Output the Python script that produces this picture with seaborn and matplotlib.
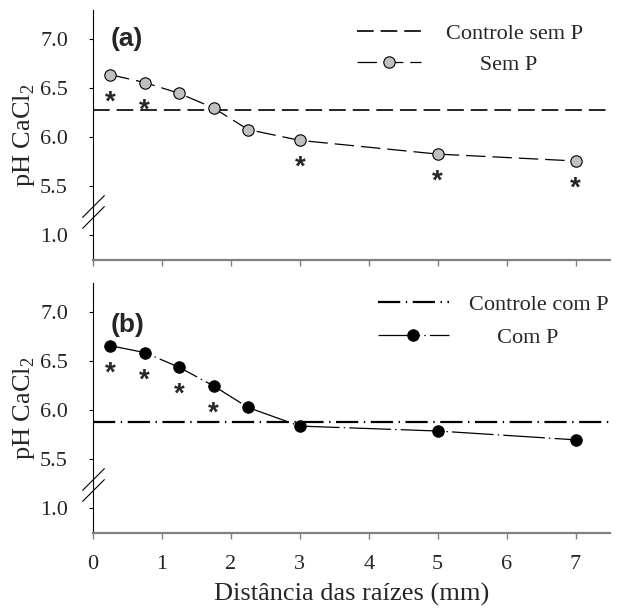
import numpy as np
import seaborn as sns
from matplotlib import pyplot as plt
from matplotlib.lines import Line2D
from matplotlib.ticker import FixedLocator, FormatStrFormatter

# data
dist = [0.25, 0.75, 1.25, 1.75, 2.25, 3, 5, 7]
ph_sem_p = [6.64, 6.56, 6.45, 6.30, 6.08, 5.97, 5.83, 5.76]
ph_com_p = [6.66, 6.59, 6.44, 6.25, 6.03, 5.84, 5.79, 5.70]
ctrl_sem_p = 6.28
ctrl_com_p = 5.88
sig_sem_p = [1, 1, 0, 0, 0, 1, 1, 1]
sig_com_p = [1, 1, 1, 1, 0, 0, 0, 0]
yticks = [1.0, 5.5, 6.0, 6.5, 7.0]
xticks = [0, 1, 2, 3, 4, 5, 6, 7]

sns.set_style("ticks")
plt.rcParams["font.family"] = ["Liberation Serif", "DejaVu Serif"]
plt.rcParams["mathtext.fontset"] = "custom"
plt.rcParams["mathtext.rm"] = "Liberation Serif"
plt.rcParams["lines.scale_dashes"] = False


# broken y axis: 1.0 sits half a unit below 5.5
def fwd(v):
    v = np.asarray(v, dtype=float)
    return np.where(v >= 5.5, v, np.where(v <= 1.0, v + 4.0, 5.0 + (v - 1.0) / 9.0))


def inv(t):
    t = np.asarray(t, dtype=float)
    return np.where(t >= 5.5, t, np.where(t <= 5.0, t - 4.0, 1.0 + (t - 5.0) * 9.0))


fig = plt.figure(figsize=(6.17, 6.08), dpi=100)
ax_a = fig.add_axes([0.1507, 0.5724, 0.838, 0.4112])
ax_b = fig.add_axes([0.1507, 0.1234, 0.838, 0.4112])

panels = [
    (ax_a, ph_sem_p, ctrl_sem_p, sig_sem_p, "(a)", 7.0,
     "Controle sem P", "      Sem P", "#c0c0c0", (0, (12, 5)), 1.2, (0, (14, 5)), 0.9,
     (0.51, 0.945), 2.9, 1.1, 0.45),
    (ax_b, ph_com_p, ctrl_com_p, sig_com_p, "(b)", 6.87,
     "Controle com P", "     Com P", "black", (0, (16, 4, 1, 4)), 1.6, (0, (30, 3, 1, 3)), 0.9,
     (0.551, 0.955), 3.2, 0.9, 0.55),
]

for (ax, ph, ctrl, sig, tag, tag_y, lab_ctrl, lab_ser, fc,
     ls_ctrl, lw_ctrl, ls_ser, lw_ser, anchor, hlen, hpad, lspace) in panels:
    ax.set_yscale("function", functions=(fwd, inv))
    ax.axhline(ctrl, color="black", lw=lw_ctrl, linestyle=ls_ctrl)
    sns.lineplot(x=dist, y=ph, ax=ax, color="black", lw=lw_ser, linestyle=ls_ser,
                 marker="o", markersize=8.2, markerfacecolor=fc,
                 markeredgecolor="black", markeredgewidth=0.8, legend=False)
    for x, y, s in zip(dist, ph, sig):
        if s:
            ax.annotate("*", xy=(x, y), xytext=(0, -25), textcoords="offset points",
                        ha="center", va="baseline", fontsize=20, fontweight="bold",
                        family="Liberation Sans")
    ax.text(0.25, tag_y, tag, ha="left", va="center", fontsize=19,
            fontweight="bold", family="Liberation Sans")

    ax.set_xlim(0, 7.5)
    ax.set_ylim(0.75, 7.3)
    ax.yaxis.set_major_locator(FixedLocator(yticks))
    ax.yaxis.set_minor_locator(FixedLocator([]))
    ax.yaxis.set_major_formatter(FormatStrFormatter("%.1f"))
    ax.set_xticks(xticks)
    sns.despine(ax=ax)
    ax.spines["left"].set_color("black")
    ax.spines["left"].set_linewidth(0.8)
    ax.spines["bottom"].set_color("#808080")
    ax.spines["bottom"].set_linewidth(1.6)
    ax.tick_params(axis="y", direction="out", length=3, width=0.8, color="black",
                   pad=15, labelsize=16)
    ax.tick_params(axis="x", direction="out", length=4, width=1.0, color="#808080",
                   pad=12, labelsize=16)
    ax.set_ylabel("pH CaCl$_{\\mathregular{2}}$", fontsize=19, labelpad=2)

    # break marks on the y axis
    ax.plot([0, 0], [0.173, 0.214], transform=ax.transAxes, marker=[(-1, -1), (1, 1)],
            markersize=16, linestyle="none", color="black", mew=0.8, clip_on=False)

    handles = [
        Line2D([], [], color="black", lw=lw_ctrl, linestyle=ls_ctrl),
        Line2D([], [], color="black", lw=lw_ser, linestyle=ls_ser, marker="o",
               markersize=8.2, markerfacecolor=fc, markeredgecolor="black",
               markeredgewidth=0.8),
    ]
    ax.legend(handles, [lab_ctrl, lab_ser], loc="upper left",
              bbox_to_anchor=anchor, frameon=False, fontsize=16,
              handlelength=hlen, handletextpad=hpad, labelspacing=lspace,
              borderpad=0, borderaxespad=0)

ax_a.tick_params(axis="x", labelbottom=False)
ax_b.set_xlabel("Distância das raízes (mm)", fontsize=19, labelpad=6)

plt.savefig("out.png", dpi=100)
